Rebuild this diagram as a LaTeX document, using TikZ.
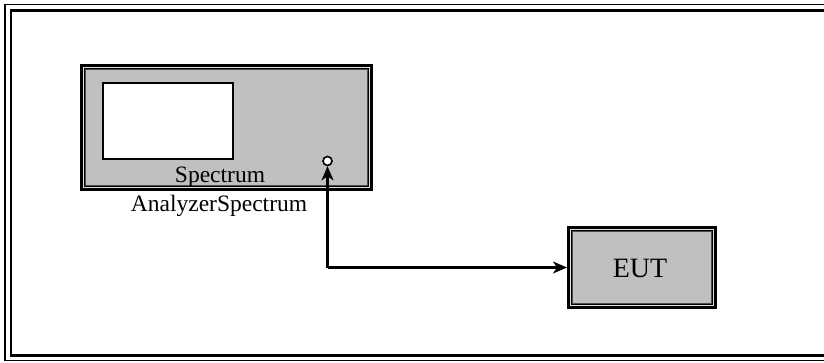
\documentclass[tikz,border=0pt]{standalone}
\usepackage{fontspec}
\setmainfont{Liberation Serif}
\usetikzlibrary{arrows.meta}
\definecolor{panelgray}{RGB}{192,192,192}
\definecolor{edgegray}{RGB}{225,225,225}
\tikzset{
  unit/.style={draw=black, line width=5.5pt, fill=panelgray, inner sep=0pt},
  glint/.style={draw=edgegray, line width=1pt},
  rim/.style={draw=black!70, line width=1.2pt},
  link/.style={line width=2.2pt, -{Stealth[length=14pt,width=12pt,inset=4pt]}},
  caption/.style={font=\fontsize{23.5}{28}\selectfont, inner sep=0pt}
}
\begin{document}
\begin{tikzpicture}[x=1pt, y=-1pt]
    \useasboundingbox (0,0) rectangle (824,362);
    \clip (0,0) rectangle (824,362);
    % outer frame, runs off to the right
    \draw[line width=1.8pt] (5,4.5) rectangle (840,360.5);
    \draw[line width=2.4pt] (11,10.5) rectangle (834,355.5);
    % analyzer housing
    \node[unit, minimum width=287.5, minimum height=121.5] (analyzer) at (226.5,127.5) {};
    \draw[glint] ([shift={(3.5,3.5)}]analyzer.north west) rectangle ([shift={(-3.5,-3.5)}]analyzer.south east);
    \draw[rim] ([shift={(5.2,5.2)}]analyzer.north west) rectangle ([shift={(-5.2,-5.2)}]analyzer.south east);
    \node[draw, line width=1.4pt, fill=white, inner sep=0pt, minimum width=130, minimum height=76] (screen) at (168,121) {};
    \node[circle, draw, line width=1.6pt, fill=white, inner sep=0pt, minimum size=9] (port) at (327.5,161) {};
    \node[caption, anchor=base] (title) at (220,182.5) {Spectrum};
    \node[caption, anchor=base] (subtitle) at (219,211.5) {AnalyzerSpectrum};
    % device under test
    \node[unit, minimum width=144.5, minimum height=77.5] (eut) at (642,267.5) {};
    \draw[glint] ([shift={(3.5,3.5)}]eut.north west) rectangle ([shift={(-3.5,-3.5)}]eut.south east);
    \draw[rim] ([shift={(5.2,5.2)}]eut.north west) rectangle ([shift={(-5.2,-5.2)}]eut.south east);
    \node[font=\fontsize{28}{32}\selectfont, inner sep=0pt] (euttext) at (640,268) {EUT};
    % cable
    \coordinate (bend) at (port |- eut);
    \draw[link] (bend) -- (port);
    \draw[link] (bend) -- (eut);
\end{tikzpicture}
\end{document}
